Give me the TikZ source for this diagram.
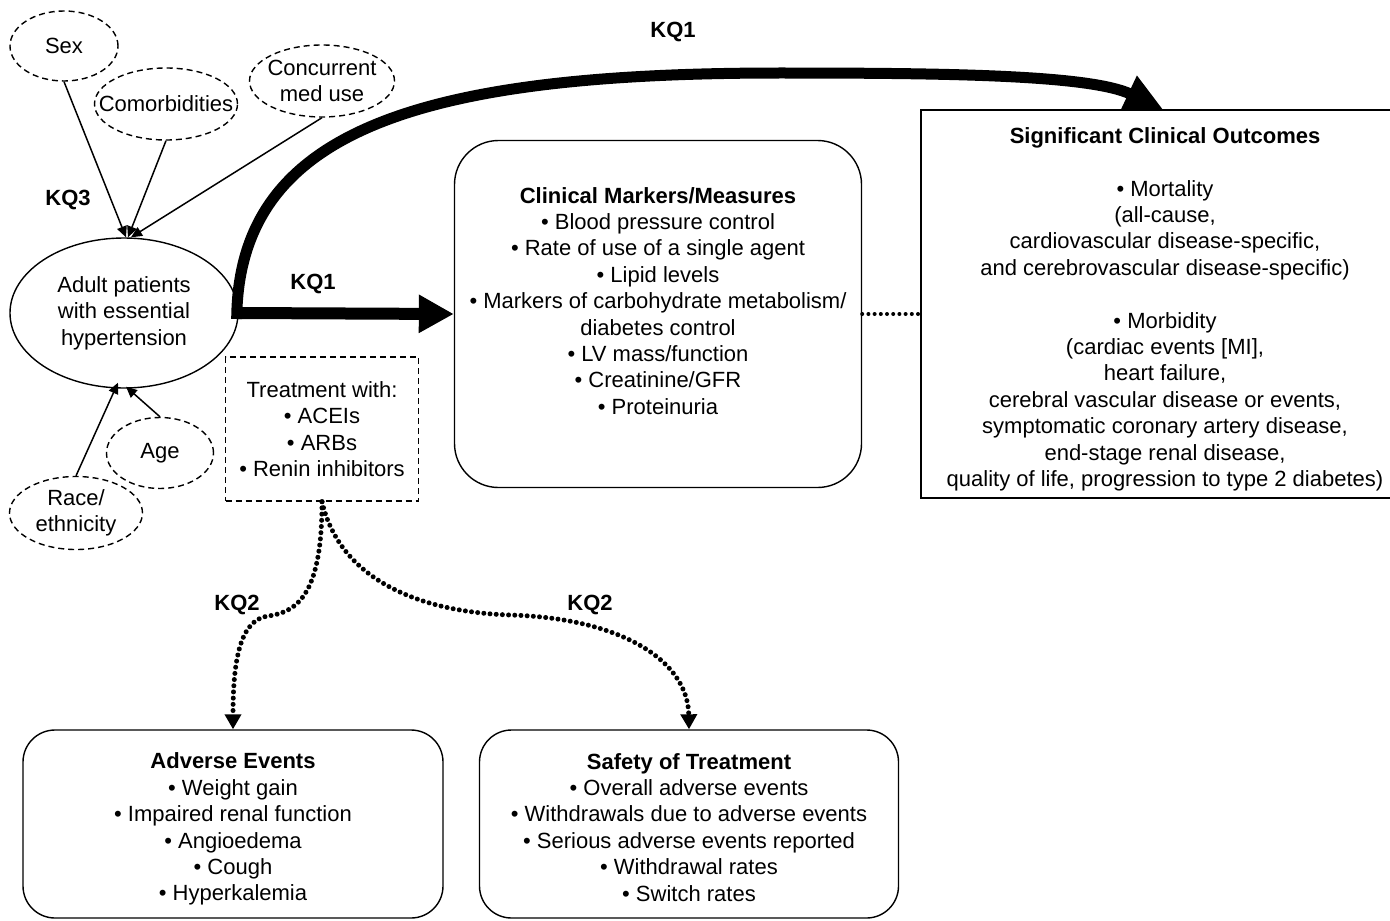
\documentclass[tikz,border=0pt]{standalone}
\usepackage{fontspec}
\setmainfont{Liberation Sans}
\usetikzlibrary{shapes.geometric,arrows.meta}
\tikzstyle{factor} = [draw, dash pattern=on 3pt off 2pt, ellipse, inner xsep=-9pt, inner ysep=0pt, align=center]
\tikzstyle{population} = [draw, ellipse, inner sep=0pt, align=center,
    minimum width=114pt, minimum height=75pt]
\tikzstyle{treatbox} = [draw, dash pattern=on 3pt off 2pt, rectangle, align=center,
    minimum width=96.5pt, minimum height=72pt]
\tikzstyle{roundbox} = [draw, rectangle, rounded corners=16pt, align=center]
\tikzstyle{outbox} = [draw, rectangle, inner ysep=0pt, align=center]
\tikzstyle{kq} = [font=\fontsize{11pt}{13.2pt}\selectfont\bfseries]
\tikzstyle{factorarrow} = [line width=0.75pt, -{Triangle[length=5.5pt,width=5pt]}]
\tikzstyle{bigarrow} = [line width=6pt, -{Triangle[length=17.5pt,width=18pt]}]
\tikzstyle{dotline} = [line width=2.5pt, line cap=round, dash pattern=on 0pt off 3.1pt]
\tikzstyle{dotarrow} = [dotline, -{Triangle[length=7.5pt,width=8pt]}]

\begin{document}
\begin{tikzpicture}[x=0.5pt, y=-0.5pt, line width=0.7pt,
    font=\fontsize{11pt}{13.2pt}\selectfont]
    \useasboundingbox (0,0) rectangle (1390,920);
    \node [factor, minimum width=54pt, minimum height=35pt] (sex) at (64,46) {Sex};
    \node [factor, minimum width=71.5pt, minimum height=36pt] (comorb) at (166,104) {Comorbidities};
    \node [factor, minimum width=72.5pt, minimum height=36pt] (concur) at (322,81) {Concurrent\\med use};
    \node [population] (adult) at (124,313) {Adult patients\\with essential\\hypertension};
    \node [factor, minimum width=53.5pt, minimum height=35.5pt] (age) at (160,453) {Age};
    \node [factor, minimum width=66.5pt, minimum height=36.5pt] (race) at (76,513) {Race/\\ethnicity};
    \node [treatbox] (treat) at (322,429) {Treatment with:\\• ACEIs\\• ARBs\\• Renin inhibitors};
    \node [roundbox, rounded corners=22pt, minimum width=203.5pt, minimum height=173.5pt] (markers) at (658,314)
        {\textbf{Clinical Markers/Measures}\\• Blood pressure control\\• Rate of use of a single agent\\• Lipid levels\\
         • Markers of carbohydrate metabolism/\\diabetes control\\• LV mass/function\\• Creatinine/GFR\\• Proteinuria\\~};
    \node [outbox, minimum width=244pt, minimum height=194pt] (outcomes) at (1165,304)
        {~\\[0pt]\textbf{Significant Clinical Outcomes}\\[13.2pt]• Mortality\\(all-cause,\\cardiovascular disease-specific,\\
         and cerebrovascular disease-specific)\\[13.2pt]• Morbidity\\(cardiac events [MI],\\heart failure,\\
         cerebral vascular disease or events,\\symptomatic coronary artery disease,\\end-stage renal disease,\\
         quality of life, progression to type 2 diabetes)};
    \node [roundbox, minimum width=210pt, minimum height=94pt] (adverse) at (233,824)
        {~\\[0pt]\textbf{Adverse Events}\\• Weight gain\\• Impaired renal function\\• Angioedema\\• Cough\\• Hyperkalemia};
    \node [roundbox, minimum width=209.5pt, minimum height=94pt] (safety) at (689,824)
        {~\\[-2pt]\textbf{Safety of Treatment}\\• Overall adverse events\\• Withdrawals due to adverse events\\
         • Serious adverse events reported\\• Withdrawal rates\\• Switch rates};
    \node [kq] (kq3) at (68,200) {KQ3};
    \node [kq] (kq1a) at (313,284) {KQ1};
    \node [kq] (kq1b) at (673,32) {KQ1};
    \node [kq] (kq2a) at (237,605) {KQ2};
    \node [kq] (kq2b) at (590,605) {KQ2};
    \coordinate (crest) at (780,73);
    \coordinate (bendl) at (268,616);
    \coordinate (bendr) at (510,615);
    \draw [factorarrow] (sex.south) -- ([xshift=1pt]adult.north);
    \draw [factorarrow] (comorb.south) -- ([xshift=2pt]adult.north);
    \draw [factorarrow] (concur.south) -- ([xshift=3.5pt]adult.north);
    \draw [factorarrow] (race.north) -- ([shift={(-3pt,3pt)}]adult.south);
    \draw [factorarrow] (age.north) -- ([shift={(1pt,1pt)}]adult.south);
    \draw [bigarrow] (adult.east) -- (markers.west);
    \draw [bigarrow, line width=5.5pt, -{Triangle[length=19pt,width=18pt]}]
        ([shift={(-1pt,-3pt)}]adult.east) .. controls (238,130) and (420,73) .. (crest)
        .. controls (950,73) and (1090,75) .. ([xshift=-1pt]outcomes.north);
    \draw [dotline, line width=2pt] (markers.east) -- (markers.east -| outcomes.west);
    \draw [dotarrow] (treat.south) .. controls (322,590) and (300,612) .. (bendl)
        .. controls (240,620) and (233,660) .. (adverse.north);
    \draw [dotarrow] (treat.south) .. controls (340,580) and (420,612) .. (bendr)
        .. controls (620,618) and (688,660) .. (safety.north);
\end{tikzpicture}
\end{document}
